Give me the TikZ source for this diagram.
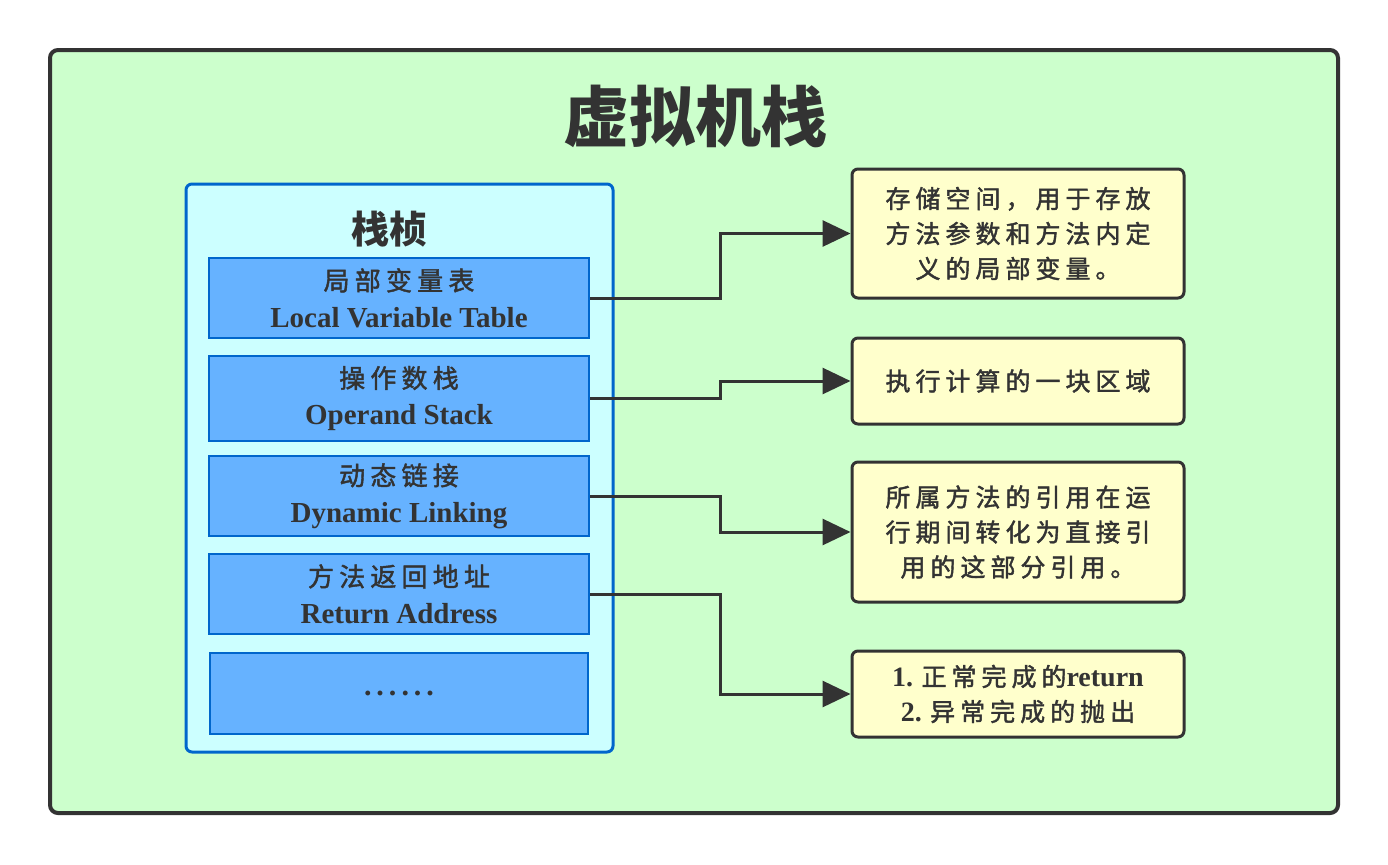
\documentclass[tikz,border=0pt]{standalone}
\usepackage{fontspec}
\setmainfont{Liberation Serif}
\newfontfamily\cjk[LetterSpace=20,FakeBold=1.6]{Noto Sans CJK SC}
\newfontfamily\cjkhead{Noto Sans CJK SC}
\usetikzlibrary{arrows.meta,positioning}
\definecolor{vmGreen}{HTML}{CCFFCC}
\definecolor{vmInk}{HTML}{333333}
\definecolor{vmBlue}{HTML}{0066CC}
\definecolor{vmCyan}{HTML}{CCFFFF}
\definecolor{vmSlot}{HTML}{66B2FF}
\definecolor{vmNote}{HTML}{FFFFCC}
\newcommand{\slotlabel}[2]{{\cjk #1}\\{\fontsize{14.5}{18.5}\selectfont\bfseries #2}}
\tikzset{
  panel/.style={draw=vmInk, fill=vmGreen, line width=2pt, rounded corners=4pt, inner sep=0pt},
  framebox/.style={draw=vmBlue, fill=vmCyan, line width=1.5pt, rounded corners=3pt, inner sep=0pt},
  slot/.style={draw=vmBlue, fill=vmSlot, line width=1pt, minimum width=190pt,
    minimum height=40pt, inner sep=0pt, align=center, text=vmInk,
    font=\fontsize{13}{18.5}\selectfont},
  note/.style={draw=vmInk, fill=vmNote, line width=1.5pt, rounded corners=3pt,
    minimum width=166pt, inner sep=0pt, align=center, text=vmInk,
    font=\fontsize{12.5}{17.5}\selectfont},
  link/.style={draw=vmInk, line width=1.5pt, -{Triangle[length=14pt,width=13pt]}}
}
\begin{document}
\begin{tikzpicture}[x=0.5pt,y=-0.5pt]
  \useasboundingbox (0,0) rectangle (1388,864);
  % outer panel and stack frame
  \node[panel, minimum width=644pt, minimum height=381.5pt] (vm) at (694,431.5) {};
  \node[text=vmInk, font=\fontsize{33}{36}\selectfont\cjkhead\bfseries] (title) at (695,116) {虚拟机栈};
  \node[framebox, minimum width=213.5pt, minimum height=284pt] (frame) at (399.5,468) {};
  \node[text=vmInk, font=\fontsize{19}{22}\selectfont\cjkhead\bfseries] (frametitle) at (389,229) {栈桢};

  % frame slots
  \node[slot] (lvt) at (399,298) {\slotlabel{局部变量表}{Local Variable Table}};
  \node[slot, minimum height=42.5pt] (ops) at (399,398.5) {\slotlabel{操作数栈}{Operand Stack}};
  \node[slot] (dyn) at (399,496) {\slotlabel{动态链接}{Dynamic Linking}};
  \node[slot] (ret) at (399,594) {\slotlabel{方法返回地址}{Return Address}};
  \node[slot, minimum width=189pt, minimum height=40.5pt, font=\fontsize{15}{18}\selectfont\bfseries] (more) at (399,693.5) {.\,.\,.\,.\,.\,.};

  % notes
  \node[note, minimum height=64.5pt] (n1) at (1018,233.5)
    {{\cjk 存储空间，用于存放}\\{\cjk 方法参数和方法内定}\\{\cjk 义的局部变量。}};
  \node[note, minimum height=43pt] (n2) at (1018,381) {{\cjk 执行计算的一块区域}};
  \node[note, minimum height=70pt] (n3) at (1018,532)
    {{\cjk 所属方法的引用在运}\\{\cjk 行期间转化为直接引}\\{\cjk 用的这部分引用。}};
  \node[note, minimum height=43pt] (n4) at (1018,694)
    {{\fontsize{14}{17.5}\selectfont\bfseries 1.} {\cjk 正常完成的}{\fontsize{14}{17.5}\selectfont\bfseries return}\\{\fontsize{14}{17.5}\selectfont\bfseries 2.} {\cjk 异常完成的抛出}};

  % connectors
  \coordinate (elbow) at (720,0);
  \draw[link] (lvt.east) -- (lvt.east -| elbow) |- (n1.west);
  \draw[link] (ops.east) -- (ops.east -| elbow) |- (n2.west);
  \draw[link] (dyn.east) -- (dyn.east -| elbow) |- (n3.west);
  \draw[link] (ret.east) -- (ret.east -| elbow) |- (n4.west);
\end{tikzpicture}
\end{document}
